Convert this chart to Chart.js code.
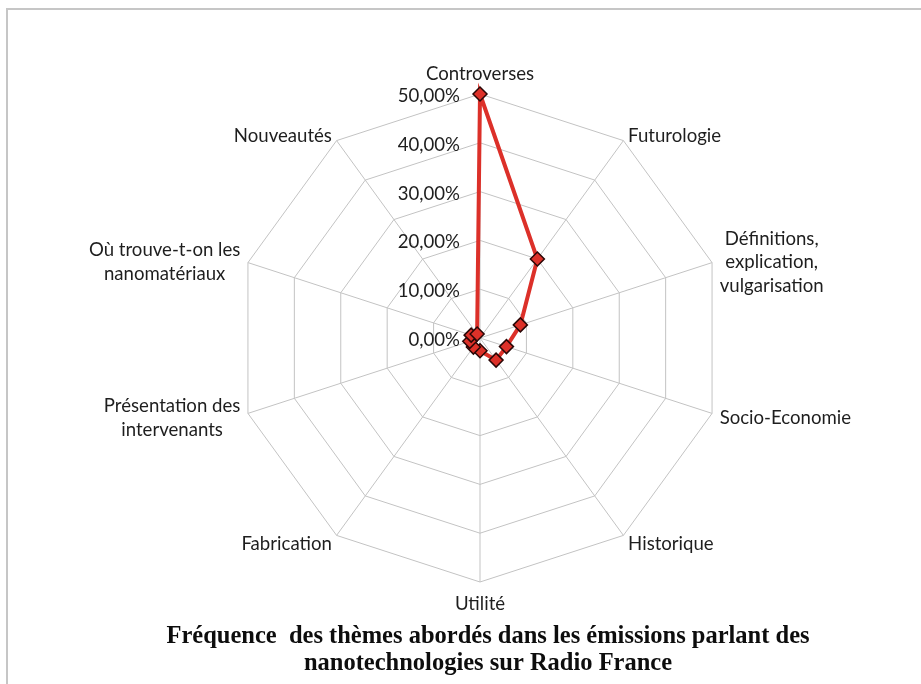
<!DOCTYPE html>
<html>
<head>
<meta charset="utf-8">
<script src="https://cdn.jsdelivr.net/npm/chart.js@4.4.1/dist/chart.umd.min.js"></script>
<style>
  html, body { margin: 0; padding: 0; background: #fff; overflow: hidden; }
  #frame { position: absolute; left: 6px; top: 8px; width: 1000px; height: 800px;
           border-top: 2px solid #c6c6c6; border-left: 2px solid #c6c6c6; }
  #radar { position: absolute; left: 0; top: 0; }
</style>
</head>
<body>
<div id="frame"></div>
<canvas id="radar" width="921" height="684"></canvas>
<script>
// themes, clockwise from the top
const themes = [
    ['Controverses'],
    ['Futurologie'],
    ['Définitions,', 'explication,', 'vulgarisation'],
    ['Socio-Economie'],
    ['Historique'],
    ['Utilité'],
    ['Fabrication'],
    ['Présentation des', 'intervenants'],
    ['Où trouve-t-on les', 'nanomatériaux'],
    ['Nouveautés']
];
// share of broadcasts per theme (%)
const frequence = [50.0, 20.0, 8.7, 5.7, 5.6, 2.6, 2.3, 2.2, 1.9, 1.0];
const tickValues = [0, 10, 20, 30, 40, 50];
const titleLines = [
    'Fréquence  des thèmes abordés dans les émissions parlant des',
    'nanotechnologies sur Radio France'
];

const LABEL_FONT = '18.6px Lato';
const LINE_H = 23.5;

const fmtPct = v => v.toFixed(2).replace('.', ',') + '%';

// axis labels around the web, lines centred like the spreadsheet does it
const themeLabels = {
    id: 'themeLabels',
    afterDraw(chart) {
        const scale = chart.scales.r;
        const ctx = chart.ctx;
        ctx.save();
        ctx.font = LABEL_FONT;
        ctx.fillStyle = '#1e1e1e';
        ctx.textBaseline = 'middle';
        ctx.textAlign = 'center';
        themes.forEach((lines, i) => {
            const p = scale.getPointPosition(i, scale.drawingArea + 8);
            const a = p.angle + Math.PI / 2;
            const s = Math.sin(a), c = Math.cos(a);
            const w = Math.max(...lines.map(l => ctx.measureText(l).width));
            const h = lines.length * LINE_H;
            let cx = p.x, cy = p.y + 2;
            if (Math.abs(s) < 0.1) {
                cy = p.y - c * (h / 2 + 1) + 1;
            } else if (s > 0) {
                cx = p.x + w / 2;
            } else {
                cx = p.x - w / 2;
            }
            lines.forEach((l, k) => {
                ctx.fillText(l, cx, cy - h / 2 + LINE_H * (k + 0.5));
            });
        });

        // percentage ticks on the left of the top spoke
        ctx.textAlign = 'right';
        tickValues.forEach(v => {
            const y = scale.yCenter - scale.getDistanceFromCenterForValue(v);
            ctx.fillText(fmtPct(v), scale.xCenter - 20, y + 2);
        });

        // title under the chart
        ctx.textAlign = 'center';
        ctx.fillStyle = '#0d0d0d';
        ctx.font = 'bold 24.5px "Liberation Serif"';
        titleLines.forEach((t, k) => ctx.fillText(t, 488, 637 + k * 27));
        ctx.restore();
    }
};

new Chart(document.getElementById('radar'), {
    type: 'radar',
    data: {
        labels: themes,
        datasets: [{
            data: frequence,
            borderColor: '#dc3029',
            borderWidth: 4,
            fill: false,
            pointStyle: 'rectRot',
            pointRadius: 7,
            pointBackgroundColor: '#dd3129',
            pointBorderColor: '#2a0706',
            pointBorderWidth: 1.5
        }]
    },
    options: {
        responsive: false,
        animation: false,
        layout: { padding: { top: 94, bottom: 102, left: 120, right: 81 } },
        plugins: {
            legend: { display: false },
            tooltip: { enabled: false }
        },
        scales: {
            r: {
                min: 0,
                max: 50,
                ticks: { stepSize: 10, display: false },
                grid: { color: '#c3c3c3', lineWidth: 1 },
                angleLines: { color: '#c3c3c3', lineWidth: 1 },
                pointLabels: { display: false }
            }
        }
    },
    plugins: [themeLabels]
});
</script>
</body>
</html>
